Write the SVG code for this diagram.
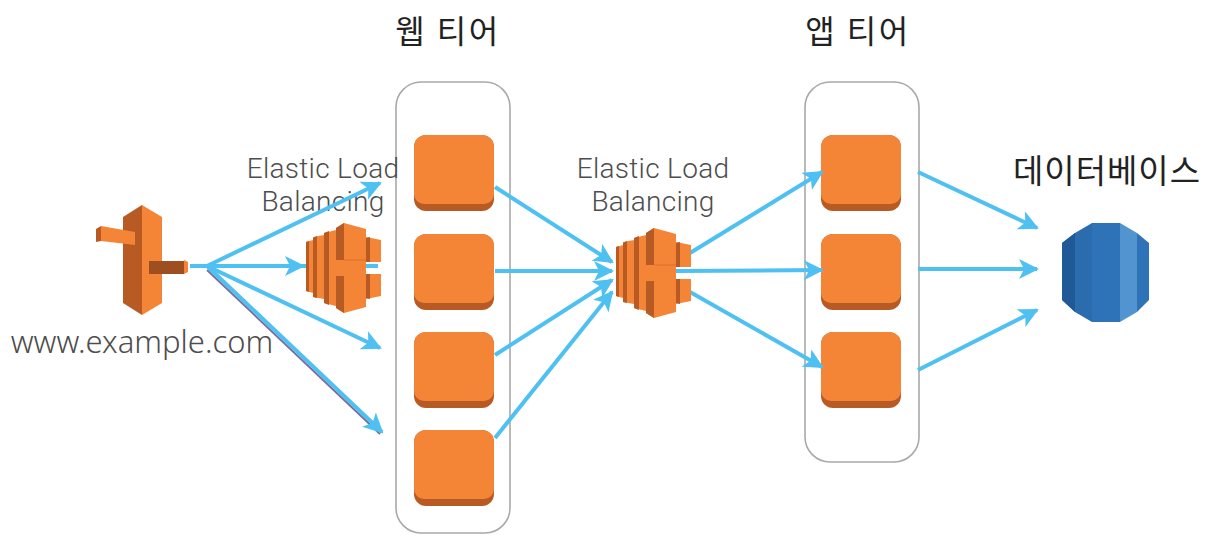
<svg xmlns="http://www.w3.org/2000/svg" width="1214" height="554" viewBox="0 0 1214 554">
<style>
.tier{fill:#fff;stroke:#a9a9a9;stroke-width:1.6}
.o{fill:#f58536}.od{fill:#b85a24}.om{fill:#9d4f21}
.title{font-family:"Noto Sans CJK KR","Noto Sans",sans-serif;font-size:32px;letter-spacing:2.5px;fill:#222;text-anchor:middle}
.lab{font-family:"Noto Sans","Open Sans",sans-serif;font-weight:300;fill:#4d4d4d;text-anchor:middle;font-size:31px}
.elb{font-family:Roboto,"Noto Sans",sans-serif;font-weight:300;fill:#4d4d4d;text-anchor:middle;font-size:28px;letter-spacing:.3px}
.c{fill:none;stroke:#4fc0f2;stroke-width:4;marker-end:url(#a)}
.l{fill:none;stroke:#4fc0f2;stroke-width:4}
</style>
<defs>
<marker id="a" viewBox="0 0 10 10" refX="9" refY="5" markerWidth="5" markerHeight="5" markerUnits="strokeWidth" orient="auto"><path d="M0 0L10 5L0 10L2.5 5Z" fill="#4fc0f2"/></marker>
<g id="sq"><path class="od" d="M0 12a12 12 0 0 1 12-12h56a12 12 0 0 1 12 12v52a12 12 0 0 1-12 12H12a12 12 0 0 1-12-12Z"/><path class="o" d="M0 12a12 12 0 0 1 12-12h56a12 12 0 0 1 12 12v47a10 10 0 0 1-10 10H10a10 10 0 0 1-10-10Z"/></g>
<g id="elb">
<path class="o" d="M0 19L7 17V70L0 68ZM7 14L18 12V76L7 74ZM18 10L30 7V83L18 80ZM30 5L38 0L60 6V37L38 37V53L60 53V84L38 90L30 85ZM60 14L75 17V39H60ZM60 51H75V73L60 76Z"/>
<path class="od" d="M0 19L3 18V69L0 68ZM7 15L11 13V75L7 74ZM18 10L23 8V82L18 80ZM30 5L38 0V37L30 37ZM30 53L38 53V90L30 85ZM60 15L64 14V39H60ZM60 51H64V76L60 75Z"/>
<path class="o" d="M38 36H60V54H38Z"/>
<path d="M38 37H60" stroke="#d96f2b" stroke-width="1"/>
</g>
</defs>
<g id="web-tier"><rect class="tier" x="396" y="82" width="114" height="451" rx="25"/>
<text class="title" x="448" y="43">웹 티어</text>
<use href="#sq" x="414" y="135"/><use href="#sq" x="414" y="234"/><use href="#sq" x="414" y="332"/><use href="#sq" x="414" y="430"/></g>
<g id="app-tier"><rect class="tier" x="805" y="82" width="114" height="380" rx="25"/>
<text class="title" x="858" y="43">앱 티어</text>
<use href="#sq" x="821" y="135"/><use href="#sq" x="821" y="234"/><use href="#sq" x="821" y="332"/></g>
<g id="dns">
<path class="od" d="M123 217L142 205V315L123 303Z"/><path class="o" d="M142 205L162 217V303L142 315Z"/>
<path class="od" d="M96 229L101 226V241L96 242Z"/><path class="o" d="M101 226L135 232V245L101 241Z"/>
<path class="om" d="M149 261H184V274H149Z"/><path class="o" d="M184 260L188 262V272L184 274Z"/>
<text class="lab" x="142" y="353">www.example.com</text></g>
<g id="elb-1-label"><text class="elb" x="323" y="178">Elastic Load</text><text class="elb" x="323" y="211">Balancing</text></g>
<g id="elb-2-label"><text class="elb" x="653" y="178">Elastic Load</text><text class="elb" x="653" y="211">Balancing</text></g>
<g id="database">
<text class="title" x="1107" y="183" style="font-size:33px;letter-spacing:1px">데이터베이스</text>
<path d="M1092 223H1120V322H1092L1075 312L1062 300V243L1075 233Z" fill="#2b6cae"/>
<path d="M1075 233L1062 243V300L1075 312Z" fill="#1f5a96"/>
<path d="M1092 223H1120V322H1092Z" fill="#2e73b8"/>
<path d="M1120 223L1137 233V312L1120 322Z" fill="#5294cf"/>
<path d="M1137 233L1149 243V300L1137 312Z" fill="#2e73b8"/></g>
<g id="connectors">
<path class="c" d="M190 266H207L380 183"/>
<path class="c" d="M207 266H303"/>
<path class="l" d="M303 266H378"/>
<path class="c" d="M207 266L380 348"/>
<path d="M207 270L380 434" fill="none" stroke="#7a6f9c" stroke-width="2"/>
<path class="c" d="M207 266L382 432"/>
<path class="c" d="M495 187L612 262"/>
<path class="c" d="M495 271H612"/>
<path class="c" d="M495 355L612 280"/>
<path class="c" d="M495 438L612 292"/>
<path class="c" d="M690 253L822 172"/>
<path class="c" d="M676 271L822 270"/>
<path class="c" d="M690 292L822 367"/>
<path class="c" d="M918 172L1037 228"/>
<path class="c" d="M918 269H1037"/>
<path class="c" d="M918 370L1037 310"/>
</g>
<g id="elb-1-icon"><use href="#elb" x="306" y="223"/></g>
<g id="elb-2-icon"><use href="#elb" x="616" y="228"/></g>
</svg>
